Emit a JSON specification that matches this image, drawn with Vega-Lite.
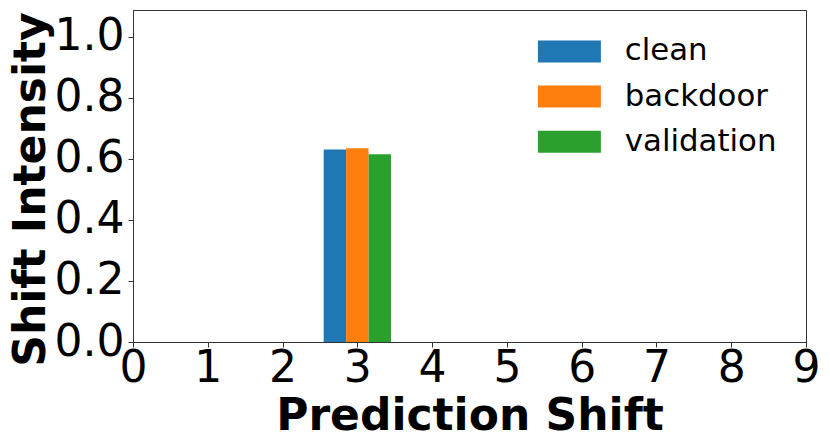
{
  "$schema": "https://vega.github.io/schema/vega-lite/v6.json",
  "autosize": "none",
  "width": 673,
  "height": 332,
  "padding": {"left": 133, "top": 10, "right": 24, "bottom": 105},
  "background": "white",
  "config": {
    "font": "DejaVu Sans",
    "view": {"stroke": "#333", "strokeWidth": 1},
    "axis": {"grid": false, "domainColor": "#333", "tickColor": "#333", "labelColor": "black", "titleColor": "black", "labelFont": "DejaVu Sans", "titleFont": "DejaVu Sans"}
  },
  "data": {
    "values": [
      {"group": "clean", "x0": 2.55, "x1": 2.85, "value": 0.631},
      {"group": "backdoor", "x0": 2.85, "x1": 3.15, "value": 0.635},
      {"group": "validation", "x0": 3.15, "x1": 3.45, "value": 0.615}
    ]
  },
  "mark": {"type": "bar"},
  "encoding": {
    "x": {
      "field": "x0", "type": "quantitative",
      "scale": {"domain": [0, 9], "nice": false, "zero": false},
      "axis": {
        "title": "Prediction Shift", "values": [0,1,2,3,4,5,6,7,8,9], "format": "d",
        "labelFontSize": 44, "titleFontSize": 44, "titleFontWeight": "bold",
        "tickSize": 5, "labelPadding": -1, "labelOverlap": false, "labelFlush": false, "labelBound": false,
        "titleBaseline": "alphabetic", "titleY": 87, "titlePadding": 0
      }
    },
    "x2": {"field": "x1"},
    "y": {
      "field": "value", "type": "quantitative",
      "scale": {"domain": [0, 1.088], "nice": false},
      "axis": {
        "title": "Shift Intensity", "values": [0,0.2,0.4,0.6,0.8,1.0], "format": ".1f",
        "labelFontSize": 44, "titleFontSize": 44, "titleFontWeight": "bold",
        "tickSize": 5, "labelPadding": 4, "labelOverlap": false, "labelFlush": false, "labelBound": false,
        "titleAngle": -90, "titleBaseline": "alphabetic", "titleX": -89, "titleY": 179, "titleAlign": "center"
      }
    },
    "y2": {"datum": 0},
    "color": {
      "field": "group", "type": "nominal",
      "scale": {"domain": ["clean", "backdoor", "validation"], "range": ["#1f77b4", "#ff7f0e", "#2ca02c"]},
      "legend": {
        "title": null, "orient": "none", "legendX": 421, "legendY": 26,
        "symbolType": "M-2.864,-1h5.727v2h-5.727z", "symbolSize": 484, "symbolStrokeWidth": 0, "symbolOpacity": 1,
        "labelFontSize": 30.8, "labelOffset": 40, "rowPadding": 13.2, "labelColor": "black", "labelFont": "DejaVu Sans"
      }
    }
  }
}
